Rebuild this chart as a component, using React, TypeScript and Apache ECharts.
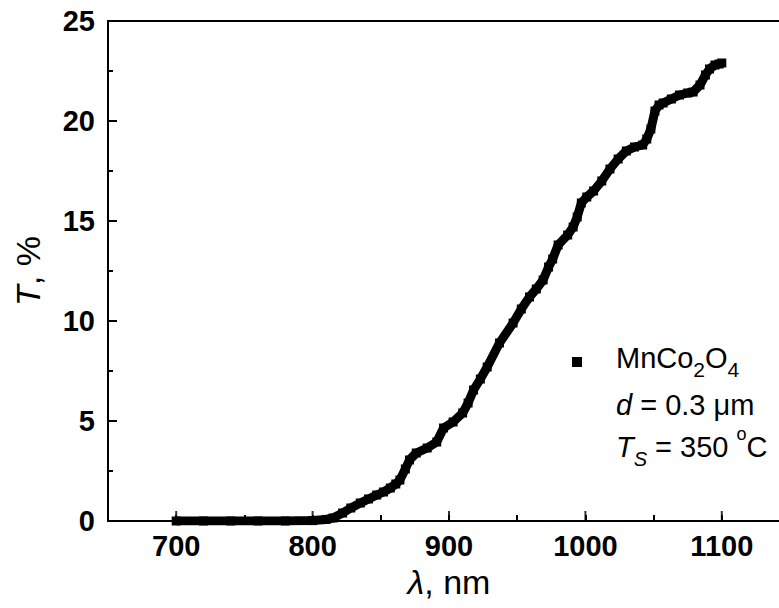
import React, { useEffect, useRef } from "react";
import * as echarts from "echarts";

const wavelengths = [
  700, 720, 740, 760, 780, 800, 810, 815, 822, 828, 835, 841, 847, 852, 857, 861, 864, 868, 871, 876,
  884, 891, 896, 903, 910, 914, 918, 923, 928, 937, 947, 953, 959, 964, 969, 973, 976, 980, 987, 991,
  994, 997, 1001, 1006, 1012, 1018, 1024, 1030, 1036, 1042, 1045, 1048, 1051, 1054, 1057, 1063, 1069,
  1075, 1079, 1084, 1088, 1091, 1095, 1098, 1100,
];
const transmittance = [
  0, 0, 0, 0, 0, 0.02, 0.08, 0.15, 0.4, 0.65, 0.9, 1.1, 1.3, 1.45, 1.65, 1.85, 2.05, 2.6, 3.05, 3.4,
  3.65, 3.95, 4.65, 4.95, 5.4, 5.9, 6.55, 7.1, 7.7, 8.9, 9.9, 10.6, 11.2, 11.6, 12.05, 12.7, 13.1, 13.8,
  14.3, 14.7, 15.2, 15.9, 16.2, 16.5, 17.0, 17.6, 18.1, 18.5, 18.7, 18.8, 19.1, 19.6, 20.5, 20.8, 20.9,
  21.1, 21.3, 21.4, 21.45, 21.8, 22.3, 22.6, 22.8, 22.85, 22.9,
];
const xMajorTicks = [700, 800, 900, 1000, 1100];
const legendLines = ["{a|MnCo}{s|2}{a|O}{s|4}", "{i|d}{a| = 0.3 μm}", "{i|T}{is|S}{a| = 350 }{sup|o}{a|C}"];

const FONT = "'Liberation Sans', Arial, sans-serif";

export default function App() {
  const ref = useRef<HTMLDivElement>(null);
  useEffect(() => {
    if (!ref.current) return;
    const chart = echarts.init(ref.current, undefined, { renderer: "svg" });
    const data = wavelengths.map((w, i) => [w, transmittance[i]]);
    const axisLineStyle = { color: "#000", width: 2 };
    const tickLineStyle = { color: "#000", width: 2 };
    const labelStyle = {
      fontSize: 29,
      fontWeight: "bold" as const,
      color: "#000",
      fontFamily: FONT,
    };
    const legendRich = {
      a: { fontSize: 29, lineHeight: 44, fontFamily: FONT, fill: "#000" },
      i: { fontSize: 29, lineHeight: 44, fontFamily: FONT, fontStyle: "italic", fill: "#000" },
      s: { fontSize: 21, lineHeight: 14, fontFamily: FONT, verticalAlign: "bottom", fill: "#000" },
      is: { fontSize: 20, lineHeight: 18, fontFamily: FONT, fontStyle: "italic", verticalAlign: "bottom", fill: "#000" },
      sup: { fontSize: 18, lineHeight: 24, fontFamily: FONT, verticalAlign: "top", fill: "#000" },
    };
    const legendTops = [336, 383, 425];
    chart.setOption({
      animation: false,
      grid: { left: 108, right: -11, top: 21, bottom: 87, containLabel: false, outerBoundsMode: "none" },
      xAxis: [
        {
          type: "value",
          position: "bottom",
          min: 650,
          max: 1150,
          interval: 50,
          axisLine: { show: true, lineStyle: axisLineStyle },
          axisTick: { show: true, inside: true, length: 6, lineStyle: tickLineStyle },
          axisLabel: {
            ...labelStyle,
            margin: 10,
            formatter: (v: number) => (v % 100 === 0 && v > 650 && v < 1150 ? String(v) : ""),
          },
          splitLine: { show: false },
          name: "{i|λ}{n|, nm}",
          nameLocation: "middle",
          nameGap: 44,
          nameTextStyle: {
            rich: {
              i: { fontSize: 34, fontStyle: "italic", fontFamily: FONT, color: "#000" },
              n: { fontSize: 34, fontFamily: FONT, color: "#000" },
            },
          },
        },
        {
          type: "value",
          position: "top",
          min: 650,
          max: 1150,
          interval: 50,
          axisLine: { show: true, lineStyle: axisLineStyle },
          axisTick: { show: false },
          axisLabel: { show: false },
          splitLine: { show: false },
        },
      ],
      yAxis: {
        type: "value",
        min: 0,
        max: 25,
        interval: 5,
        axisLine: { show: true, lineStyle: axisLineStyle },
        axisTick: { show: true, inside: true, length: 9, lineStyle: tickLineStyle },
        minorTick: { show: true, splitNumber: 2, length: 5, lineStyle: tickLineStyle },
        axisLabel: { ...labelStyle, margin: 13, formatter: (v: number) => String(v) },
        splitLine: { show: false },
        minorSplitLine: { show: false },
        name: "{i|T}{n|, %}",
        nameLocation: "middle",
        nameGap: 63,
        nameTextStyle: {
          rich: {
            i: { fontSize: 34, fontStyle: "italic", fontFamily: FONT, color: "#000" },
            n: { fontSize: 34, fontFamily: FONT, color: "#000" },
          },
        },
      },
      series: [
        {
          type: "line",
          xAxisIndex: 0,
          yAxisIndex: 0,
          data,
          symbol: "rect",
          symbolSize: 9,
          showAllSymbol: true,
          itemStyle: { color: "#000" },
          lineStyle: { color: "#000", width: 9, join: "round" },
          silent: true,
          z: 1,
        },
        {
          type: "scatter",
          xAxisIndex: 0,
          yAxisIndex: 0,
          data: xMajorTicks.map((v) => [v, 0]),
          symbol: "rect",
          symbolSize: [2, 10],
          symbolOffset: [0, -5],
          itemStyle: { color: "#000" },
          silent: true,
          clip: false,
          z: 3,
        },
      ],
      graphic: [
        { type: "rect", shape: { x: 572, y: 357, width: 10, height: 10 }, style: { fill: "#000" } },
        ...legendLines.map((t, k) => ({
          type: "text",
          x: 616,
          y: legendTops[k],
          style: { text: t, rich: legendRich, verticalAlign: "top", align: "left", fill: "#000", fontFamily: FONT, fontSize: 29 },
        })),
      ],
    });
    return () => chart.dispose();
  }, []);
  return (
    <div
      ref={ref}
      style={{ position: "fixed", left: 0, top: 0, width: 779, height: 608, background: "#fff" }}
    />
  );
}
